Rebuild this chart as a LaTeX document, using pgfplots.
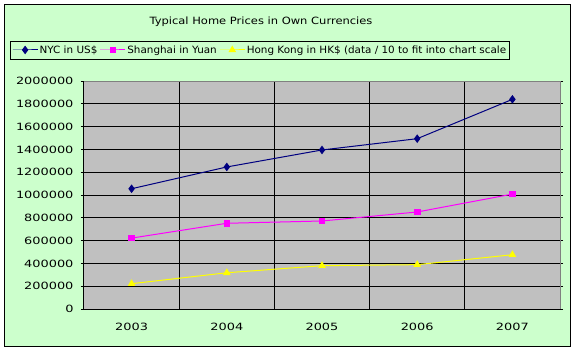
\documentclass[border=0pt]{standalone}
\usepackage{fontspec}
\setmainfont{DejaVu Sans}[FakeStretch=1.15]
\newfontfamily\tickfont{DejaVu Sans}[FakeStretch=1.29]
\newfontfamily\legfont{DejaVu Sans}[FakeStretch=1.04]
\usepackage{pgfplots}
\pgfplotsset{compat=1.18}
\definecolor{bgout}{HTML}{CCFFCC}
\definecolor{plotbg}{HTML}{C0C0C0}
\definecolor{navyc}{HTML}{000080}
\definecolor{magc}{HTML}{FF00FF}
\definecolor{yelc}{HTML}{FFFF00}
\definecolor{bordgray}{HTML}{808080}
\begin{document}
\fontsize{10bp}{12bp}\selectfont
\begin{tikzpicture}[x=1bp,y=1bp]
\useasboundingbox (-84,-43) rectangle (492,309);
\draw[fill=bgout, line width=1bp] (-79,-37) rectangle (486,304);
\node at (177,287) {Typical Home Prices in Own Currencies};
\begin{axis}[
  scale only axis, width=476bp, height=228bp,
  xmin=-0.5, xmax=4.5, ymin=0, ymax=2000000,
  axis background/.style={fill=plotbg},
  axis line style={draw=none},
  xtick={0,1,2,3,4}, xticklabels={2003,2004,2005,2006,2007},
  major x tick style={draw=none},
  minor xtick={0.5,1.5,2.5,3.5},
  xminorgrids=true,
  minor x tick style={draw=none},
  minor grid style={black, line width=1bp},
  ytick={0,200000,...,2000000},
  ymajorgrids=true,
  major grid style={black, line width=1bp},
  tick align=outside,
  major y tick style={black, line width=1bp},
  major tick length=3bp,
  scaled y ticks=false,
  /pgf/number format/.cd, fixed, 1000 sep={}, assume math mode=true,
  /pgfplots/.cd,
  yticklabel style={xshift=-4bp, font=\tickfont\fontsize{10bp}{12bp}\selectfont},
  xticklabel style={yshift=-7.5bp, font=\tickfont\fontsize{10bp}{12bp}\selectfont},
  clip=false,
  legend columns=3,
  legend style={at={(-0.155,1.136)}, anchor=west, draw=black, line width=0.8bp, fill=none,
    inner xsep=1.5bp, inner ysep=3bp, font=\legfont\fontsize{10bp}{12bp}\selectfont,
    nodes={inner sep=1.5bp},
    /tikz/every even column/.append style={column sep=1bp}},
  legend cell align=left,
  legend image code/.code={\draw[mark repeat=2,mark phase=2,#1] plot coordinates {(0bp,0bp)(12.5bp,0bp)(25bp,0bp)};},
]
\addplot[navyc, line width=1bp, mark=diamond*, mark size=3.5bp, mark options={fill=navyc, draw=navyc}]
  coordinates {(0,1055000)(1,1246000)(2,1395000)(3,1494000)(4,1839000)};
\addlegendentry{NYC in US\$}
\addplot[magc, line width=1bp, mark=square*, mark size=2.8bp, mark options={fill=magc, draw=magc}]
  coordinates {(0,622000)(1,752000)(2,772000)(3,851000)(4,1008000)};
\addlegendentry{Shanghai in Yuan}
\addplot[yelc, line width=1bp, mark=triangle*, mark size=3.5bp, mark options={fill=yelc, draw=yelc}]
  coordinates {(0,222000)(1,318000)(2,380000)(3,389000)(4,476000)};
\addlegendentry{Hong Kong in HK\$ (data / 10 to fit into chart scale}
\draw[black, line width=1bp] (rel axis cs:0,1) -- (rel axis cs:0,0) -- (rel axis cs:1,0);
\draw[bordgray, line width=1bp] (rel axis cs:0,1) -- (rel axis cs:1,1) -- (rel axis cs:1,0);
\end{axis}
\end{tikzpicture}
\end{document}
